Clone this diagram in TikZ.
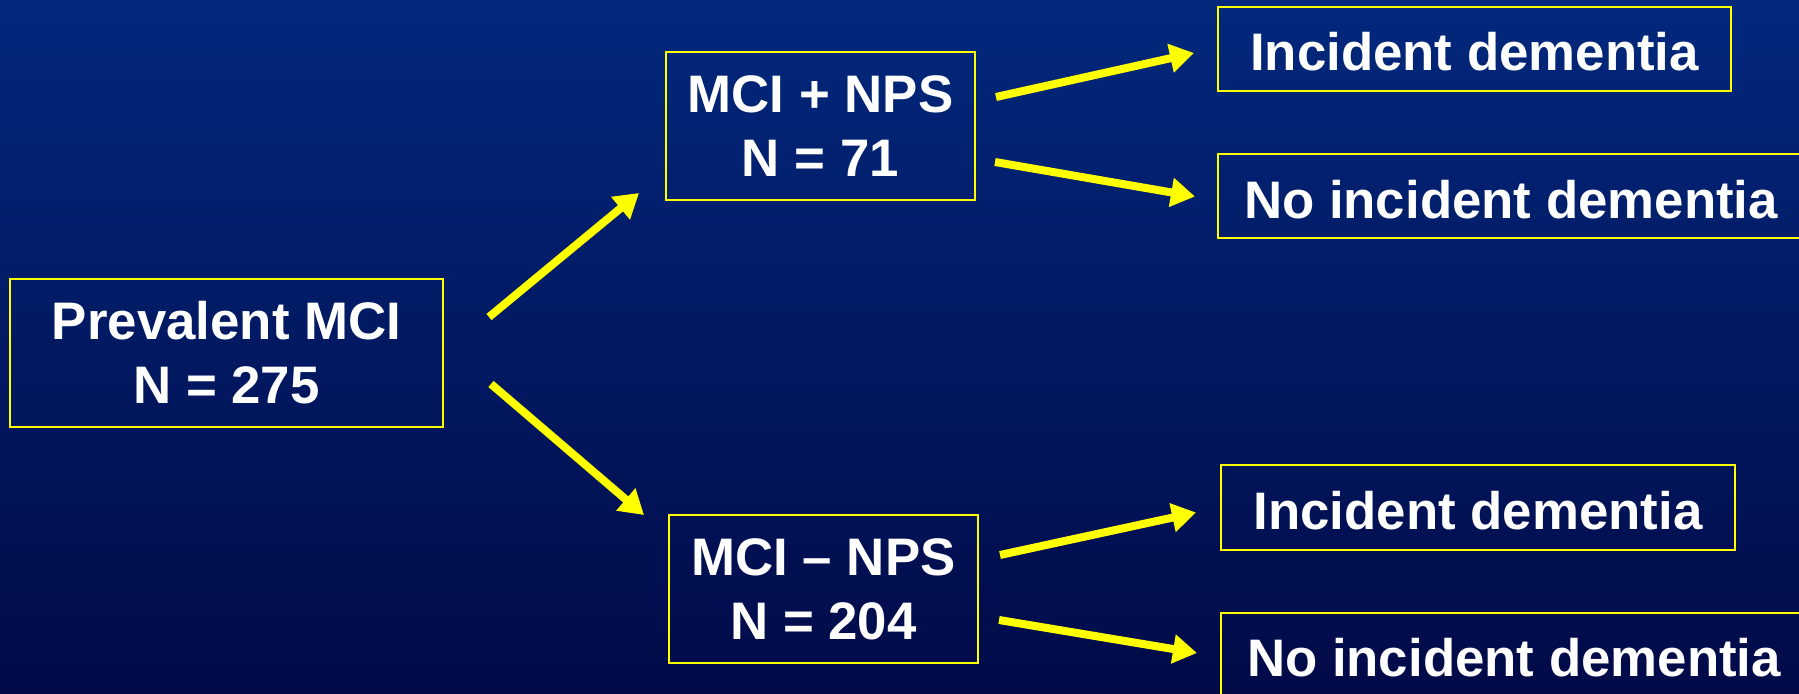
\documentclass[tikz,border=0pt]{standalone}
\usepackage{fontspec}
\setmainfont{Liberation Sans}
\usepackage{tikz}
\usetikzlibrary{arrows.meta, positioning}
\usepackage{xcolor}

\definecolor{slidetop}{RGB}{2,40,124}
\definecolor{slidebot}{RGB}{2,10,72}
\definecolor{flowyel}{RGB}{255,255,0}

\begin{document}
\begin{tikzpicture}[x=0.5pt,y=-0.5pt,
    box/.style={draw=flowyel,line width=1pt,inner sep=0pt,align=center,text=white,
        font=\fontsize{26.4}{32}\selectfont\bfseries,
        execute at begin node=\rule{0pt}{22pt}},
    arr/.style={draw=flowyel,line width=4pt,-{Triangle[length=12pt,width=14pt]}}]
    \shade[top color=slidetop,bottom color=slidebot] (0,0) rectangle (1799,694);
    \useasboundingbox (0,0) rectangle (1799,694);

    \node[box,minimum width=216.5pt,minimum height=74pt] (mci) at (226.5,353) {Prevalent MCI\\N = 275};
    \node[box,minimum width=154.5pt,minimum height=74pt] (pos) at (820.5,126) {MCI + NPS\\N = 71};
    \node[box,minimum width=154.5pt,minimum height=74pt] (neg) at (823.5,589) {MCI \textendash{} NPS\\N = 204};

    \node[box,minimum width=256.5pt,minimum height=42pt] (posInc) at (1474.5,49) {Incident dementia};
    \node[box,minimum width=293pt,minimum height=42pt] (posNo) at (1511,196.5) {No incident dementia};
    \node[box,minimum width=257pt,minimum height=42.5pt] (negInc) at (1478,507.5) {Incident dementia};
    \node[box,minimum width=293pt,minimum height=42pt] (negNo) at (1514,655) {No incident dementia};

    \path[arr] ([shift={(45,-36)}]mci.east) -- ([shift={(-26,67)}]pos.west);
    \path[arr] ([shift={(47,31)}]mci.east) -- ([shift={(-24,-74)}]neg.west);
    \path[arr] ([shift={(20,-29)}]pos.east) -- ([shift={(-23,4)}]posInc.west);
    \path[arr] ([shift={(19,36)}]pos.east) -- ([shift={(-22,0)}]posNo.west);
    \path[arr] ([shift={(21,-34)}]neg.east) -- ([shift={(-24,5)}]negInc.west);
    \path[arr] ([shift={(20,31)}]neg.east) -- ([shift={(-23,-2)}]negNo.west);
\end{tikzpicture}
\end{document}
